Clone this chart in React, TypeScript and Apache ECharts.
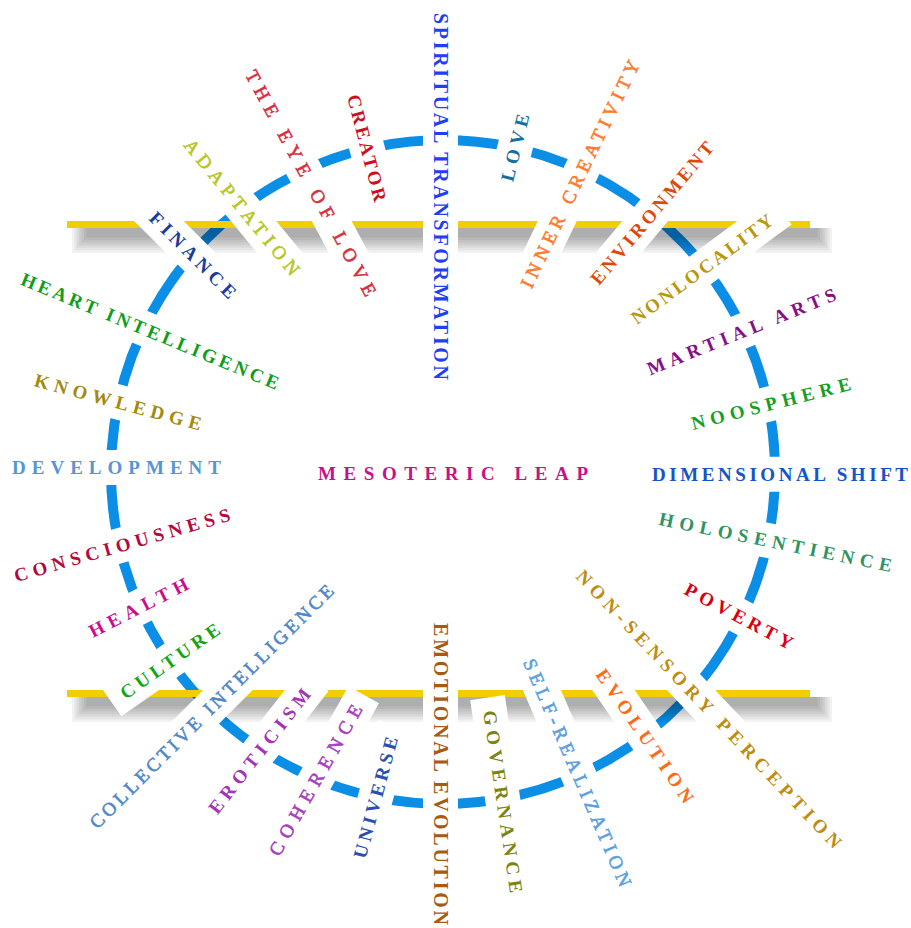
import React, { useEffect, useRef } from "react";
import * as echarts from "echarts";

// ---- data ----
const WORDS: string[] = [
  "SPIRITUAL TRANSFORMATION",
  "THE EYE OF LOVE",
  "CREATOR",
  "ADAPTATION",
  "FINANCE",
  "HEART INTELLIGENCE",
  "KNOWLEDGE",
  "DEVELOPMENT",
  "MESOTERIC LEAP",
  "CONSCIOUSNESS",
  "HEALTH",
  "CULTURE",
  "COLLECTIVE INTELLIGENCE",
  "EROTICISM",
  "COHERENCE",
  "UNIVERSE",
  "EMOTIONAL EVOLUTION",
  "GOVERNANCE",
  "SELF-REALIZATION",
  "EVOLUTION",
  "NON-SENSORY PERCEPTION",
  "POVERTY",
  "HOLOSENTIENCE",
  "DIMENSIONAL SHIFT",
  "NOOSPHERE",
  "MARTIAL ARTS",
  "NONLOCALITY",
  "ENVIRONMENT",
  "INNER CREATIVITY",
  "LOVE",
];

const COLORS: string[] = [
  "#1f3ff2",
  "#d8303f",
  "#cc1020",
  "#b5c81e",
  "#1a3a9c",
  "#0e9e1c",
  "#a58a0f",
  "#5596d6",
  "#c8108c",
  "#b3093f",
  "#cc0c8c",
  "#12a514",
  "#4f87c9",
  "#a334b5",
  "#a63fc0",
  "#2a4fae",
  "#a65a14",
  "#7c8412",
  "#5b9fe0",
  "#ff6a12",
  "#c08c12",
  "#d8000e",
  "#2f9464",
  "#1455c6",
  "#14a024",
  "#85108a",
  "#b8980c",
  "#e0480a",
  "#ff7a2a",
  "#14709e",
];

const WEIGHTS: string[] = [
  "bold", "normal", "bold", "normal", "bold", "bold", "bold", "bold", "bold", "bold",
  "bold", "bold", "normal", "bold", "normal", "bold", "bold", "bold", "normal", "bold",
  "bold", "bold", "bold", "bold", "bold", "bold", "bold", "bold", "normal", "bold",
];

// ---- layout (centre x, centre y, reading angle below horizontal in degrees, text length, font size) ----
const LAYOUT: number[][] = [
  [440.5, 196.5, 90, 367, 20],
  [311, 183, 61.5, 254, 19],
  [367, 148, 75.5, 110, 19],
  [242, 207, 50.5, 170, 19],
  [193, 255, 45, 114, 19],
  [150, 331, 22.4, 277, 19],
  [118, 402, 15, 172, 19],
  [116.5, 467.5, 0, 209, 19],
  [453, 473.5, 0, 270, 19],
  [122, 545, -16, 224, 19],
  [138.5, 607.5, -27, 109, 19],
  [170, 661, -35, 117, 19],
  [211.5, 706.5, -45, 336, 19],
  [259.5, 751, -52, 153, 19],
  [315.5, 780, -60.5, 170, 19],
  [375.5, 797.5, -75, 125, 19],
  [440.5, 774, 90, 302, 20],
  [503, 801.5, 81.5, 184, 19],
  [577.5, 772.5, 66.7, 246, 19],
  [645, 736, 55.7, 158, 19],
  [709, 709, 46.5, 376, 19],
  [739, 616, 28, 120, 19],
  [775.5, 542, 11.5, 237, 19],
  [780, 474.3, 0, 256, 19],
  [771, 403.5, -14.2, 164, 19],
  [741.5, 331.5, -22, 202, 19],
  [702, 269, -36.5, 171, 19],
  [652, 213, -50, 180, 19],
  [580, 174, -64.3, 250, 19],
  [515, 147.5, -76, 69, 19],
];

const W = 911;
const H = 928;
const CIRCLE = { cx: 443, cy: 472, r: 332 };
const BAR_YS = [221, 690];
const BOX_H = 35;
const BOX_PAD = 13;
const FONT_FAMILY = '"Liberation Serif", "DejaVu Serif", serif';

export default function App() {
  const ref = useRef<HTMLDivElement>(null);

  useEffect(() => {
    const el = ref.current;
    if (!el) return;
    const chart = echarts.init(el, null, { renderer: "svg", width: W, height: H });

    const elements: any[] = [];
    elements.push({
      type: "circle",
      silent: true,
      shape: { cx: CIRCLE.cx, cy: CIRCLE.cy, r: CIRCLE.r },
      style: { fill: "none", stroke: "#0a8ee6", lineWidth: 10 },
    });
    BAR_YS.forEach((y) => {
      // soft shadow built from nested translucent layers
      for (let k = 0; k < 7; k++) {
        elements.push({
          type: "rect",
          silent: true,
          shape: {
            x: 72 + k * 2.4,
            y: y + 7,
            width: 760 - k * 4.8,
            height: 25 - k * 2.6,
          },
          style: { fill: "rgba(0,0,0,0.052)" },
        });
      }
      elements.push({
        type: "rect",
        silent: true,
        shape: { x: 67, y, width: 743, height: 7 },
        style: { fill: "#f2cd00" },
      });
    });
    LAYOUT.forEach(([cx, cy, ang, len]) => {
      elements.push({
        type: "rect",
        silent: true,
        x: cx,
        y: cy,
        rotation: (-ang * Math.PI) / 180,
        shape: { x: -(len / 2 + BOX_PAD), y: -BOX_H / 2, width: len + 2 * BOX_PAD, height: BOX_H },
        style: { fill: "#ffffff" },
      });
    });
    WORDS.forEach((w, i) => {
      const [cx, cy, ang, , fs] = LAYOUT[i];
      const light = WEIGHTS[i] === "normal";
      elements.push({
        type: "text",
        silent: true,
        x: cx,
        y: cy,
        rotation: (-ang * Math.PI) / 180,
        style: {
          text: w,
          x: 0,
          y: 0,
          fill: COLORS[i],
          stroke: light ? COLORS[i] : undefined,
          lineWidth: light ? 0.6 : 0,
          font: `${WEIGHTS[i]} ${fs}px ${FONT_FAMILY}`,
          textAlign: "center",
          textVerticalAlign: "middle",
          align: "center",
          verticalAlign: "middle",
        },
      });
    });

    chart.setOption({ animation: false, backgroundColor: "#ffffff", graphic: { elements } });

    const applySpacing = () => {
      const nodes = el.querySelectorAll("text");
      nodes.forEach((node) => {
        const t = node as unknown as SVGTextElement;
        if (t.getAttribute("data-ls")) return;
        const idx = WORDS.indexOf((t.textContent || "").trim());
        if (idx < 0) return;
        const natural = t.getComputedTextLength();
        if (!natural) return;
        const n = WORDS[idx].length;
        const ls = (LAYOUT[idx][3] - natural) / (n - 1);
        t.setAttribute("letter-spacing", ls.toFixed(2));
        const x0 = parseFloat(t.getAttribute("x") || "0") || 0;
        t.setAttribute("x", (x0 + ls / 2).toFixed(2));
        t.setAttribute("data-ls", "1");
      });
    };
    applySpacing();
    const raf = requestAnimationFrame(applySpacing);
    const tm = setTimeout(applySpacing, 50);

    return () => {
      cancelAnimationFrame(raf);
      clearTimeout(tm);
      chart.dispose();
    };
  }, []);

  return (
    <div
      ref={ref}
      style={{ position: "fixed", left: 0, top: 0, width: W, height: H, background: "#ffffff" }}
    />
  );
}
